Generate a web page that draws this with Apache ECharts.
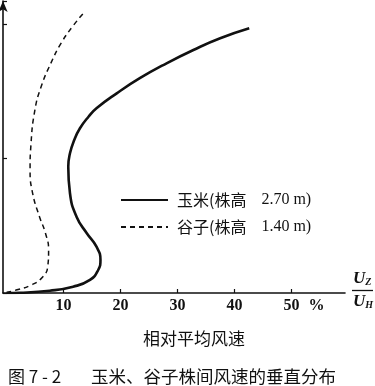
<!DOCTYPE html>
<html><head><meta charset="utf-8">
<script src="https://cdn.jsdelivr.net/npm/echarts@6/dist/echarts.min.js"></script>
<style>html,body{margin:0;padding:0;background:#fff}#c{width:375px;height:386px}</style>
</head><body><div id="c"></div>
<script>
// Relative mean wind speed (%) vs height (m)
const cornName = '玉米(株高 2.70 m)';
const milletName = '谷子(株高 1.40 m)';
const cornSpeed  = [0.1, 2.4, 7.6, 11.7, 14.66, 16.1, 16.5, 15.8, 14.1, 12.3, 11.15, 10.85, 11.15, 11.9, 12.9, 14.4, 15.8, 19.35, 23.4, 28.1, 32.8, 37.5, 42.6];
const cornHeight = [0, 0.002, 0.017, 0.047, 0.097, 0.171, 0.245, 0.344, 0.444, 0.567, 0.741, 0.939, 1.038, 1.137, 1.224, 1.310, 1.373, 1.484, 1.596, 1.707, 1.806, 1.893, 1.967];
const milletSpeed  = [0, 1.7, 4.35, 6.4, 7.25, 7.4, 6.85, 5.8, 4.6, 4.15, 4.3, 5.0, 6.1, 7.8, 9.6, 11.6, 13.4];
const milletHeight = [0.004, 0.022, 0.059, 0.121, 0.196, 0.32, 0.444, 0.567, 0.741, 0.914, 1.1, 1.361, 1.534, 1.708, 1.857, 1.98, 2.074];
const xTickValues = [10, 20, 30, 40, 50];
const xTickLabels = ['10', '20', '30', '40', '50'];
const xUnit = '%';
const xUnitPos = 54.4;
const xTitle = '相对平均风速';
const captionNo = '图 7 - 2';
const captionText = '玉米、谷子株间风速的垂直分布';

const pair = (xs, ys) => xs.map((v, i) => [v, ys[i]]);
const serif = '"Liberation Serif", "DejaVu Serif", serif';
const cjk = '"Noto Sans CJK SC", sans-serif';

const chart = echarts.init(document.getElementById('c'));
chart.setOption({
  animation: false,
  backgroundColor: '#fff',
  grid: { left: 3, right: 30, top: 1, bottom: 93, containLabel: false },
  title: [
    { text: xTitle, left: 189, top: 325, textAlign: 'center',
      textStyle: { fontFamily: cjk, fontSize: 17, fontWeight: 'normal', color: '#111' } },
    { text: captionNo, left: 3, top: 363,
      textStyle: { fontFamily: cjk, fontSize: 17, fontWeight: 'normal', color: '#111' } },
    { text: captionText, left: 86, top: 363,
      textStyle: { fontFamily: cjk, fontSize: 17.5, fontWeight: 'normal', color: '#111' } }
  ],
  legend: {
    orient: 'vertical', left: 115, top: 187,
    itemWidth: 47, itemHeight: 14, itemGap: 11,
    itemStyle: { opacity: 0, borderWidth: 0 },
    formatter: name => {
      const i = name.indexOf(' ');
      return '{c|' + name.slice(0, i) + '}{n|' + name.slice(i + 1) + '}';
    },
    textStyle: {
      padding: [0, 0, 0, 4],
      rich: {
        c: { fontFamily: cjk, fontSize: 16, color: '#111' },
        n: { fontFamily: serif, fontSize: 16, color: '#111', padding: [0, 0, 0, 15] }
      }
    },
    data: [cornName, milletName]
  },
  xAxis: {
    type: 'value', min: -0.6, max: 59.4,
    axisLine: { show: true, onZero: false, lineStyle: { color: '#111', width: 1.6 } },
    axisTick: { show: true, inside: true, length: 4, customValues: xTickValues, lineStyle: { color: '#111', width: 1.2 } },
    axisLabel: {
      customValues: xTickValues.concat([xUnitPos]),
      formatter: v => v === xUnitPos ? xUnit : xTickLabels[xTickValues.indexOf(v)],
      fontFamily: serif, fontSize: 16, fontWeight: 'bold', color: '#111', margin: 5
    },
    splitLine: { show: false }
  },
  yAxis: {
    type: 'value', min: 0, max: 2.17, interval: 1,
    axisLine: { show: true, onZero: false, symbol: ['none', 'arrow'], symbolSize: [7, 11], symbolOffset: [0, 0],
      lineStyle: { color: '#111', width: 1.6 } },
    axisTick: { show: true, inside: true, length: 4, lineStyle: { color: '#111', width: 1.2 } },
    axisLabel: { show: false },
    splitLine: { show: false }
  },
  graphic: [
    { type: 'text', left: 353, top: 270, style: { text: '{u|U}{s|Z}', rich: {
        u: { fontFamily: serif, fontStyle: 'italic', fontWeight: 'bold', fontSize: 17, fill: '#111' },
        s: { fontFamily: serif, fontStyle: 'italic', fontWeight: 'bold', fontSize: 10, fill: '#111', padding: [8, 0, 0, 0] } } } },
    { type: 'line', shape: { x1: 352, y1: 290.5, x2: 373, y2: 290.5 }, style: { stroke: '#111', lineWidth: 1.3 } },
    { type: 'text', left: 353, top: 293, style: { text: '{u|U}{s|H}', rich: {
        u: { fontFamily: serif, fontStyle: 'italic', fontWeight: 'bold', fontSize: 17, fill: '#111' },
        s: { fontFamily: serif, fontStyle: 'italic', fontWeight: 'bold', fontSize: 10, fill: '#111', padding: [8, 0, 0, 0] } } } }
  ],
  series: [
    { name: cornName, type: 'line', data: pair(cornSpeed, cornHeight), smooth: 0.5, symbol: 'none',
      lineStyle: { color: '#111', width: 2.6 }, itemStyle: { color: '#111' } },
    { name: milletName, type: 'line', data: pair(milletSpeed, milletHeight), smooth: 0.5, symbol: 'none',
      lineStyle: { color: '#111', width: 1.5, type: [5, 4] }, itemStyle: { color: '#111' } }
  ]
});
</script></body></html>
